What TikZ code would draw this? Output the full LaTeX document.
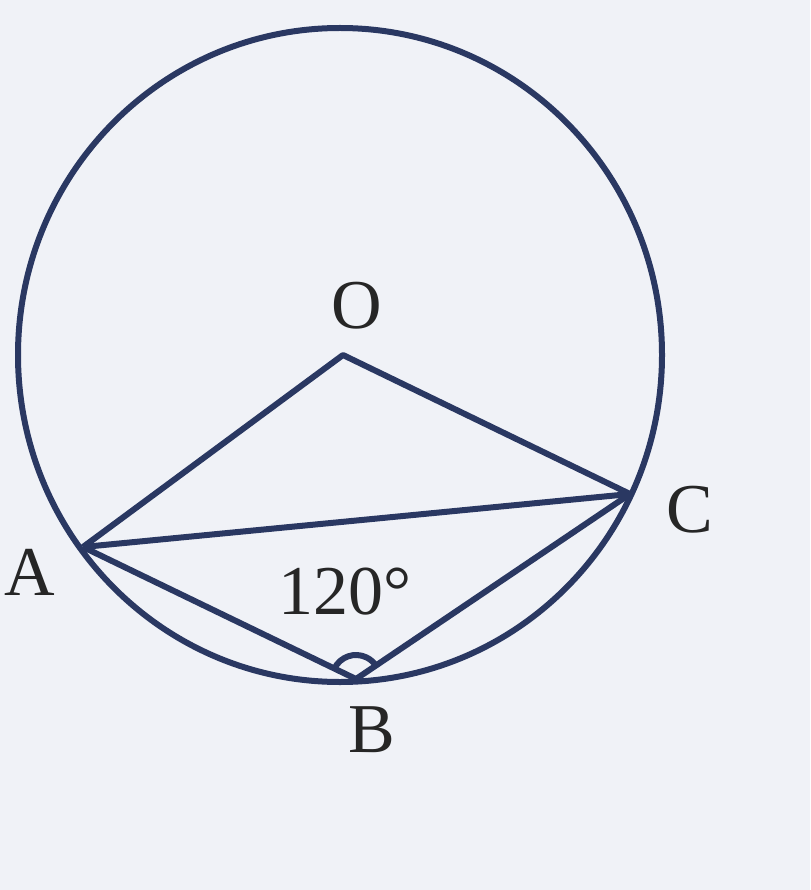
\documentclass[tikz,border=0pt]{standalone}
\usepackage{fontspec}
\setmainfont{Liberation Serif}
\usetikzlibrary{calc}
\begin{document}
\begin{tikzpicture}[x=1pt,y=-1pt,
  geo/.style={draw=linecol, line width=6pt, line join=round},
  lbl/.style={font=\fontsize{70}{80}\selectfont, text=black!85, inner sep=0pt}]
\definecolor{linecol}{HTML}{2A3862}
\definecolor{bgcol}{HTML}{F0F2F7}
\fill[bgcol] (0,0) rectangle (810,890);
\useasboundingbox (0,0) rectangle (810,890);
\coordinate (Ctr) at (340,355);
\coordinate (O) at (343,355);
\coordinate (A) at (83,547);
\coordinate (B) at (356,679);
\coordinate (C) at (630,494);
\draw[geo] (Ctr) ellipse[x radius=322, y radius=327];
\draw[geo] (A) -- (O) -- (C);
\draw[geo] (A) -- (C);
\draw[geo] (A) -- (B) -- (C);
\draw[geo] ($(B)+(206:24)$) arc[start angle=206, end angle=326, radius=24];
\node[lbl] (lO) at (357,306) {O};
\node[lbl] (lA) at (30,572) {A};
\node[lbl] (lC) at (690,510) {C};
\node[lbl] (lB) at (372,730) {B};
\node[lbl] (lang) at (345,592) {120°};
\end{tikzpicture}
\end{document}
